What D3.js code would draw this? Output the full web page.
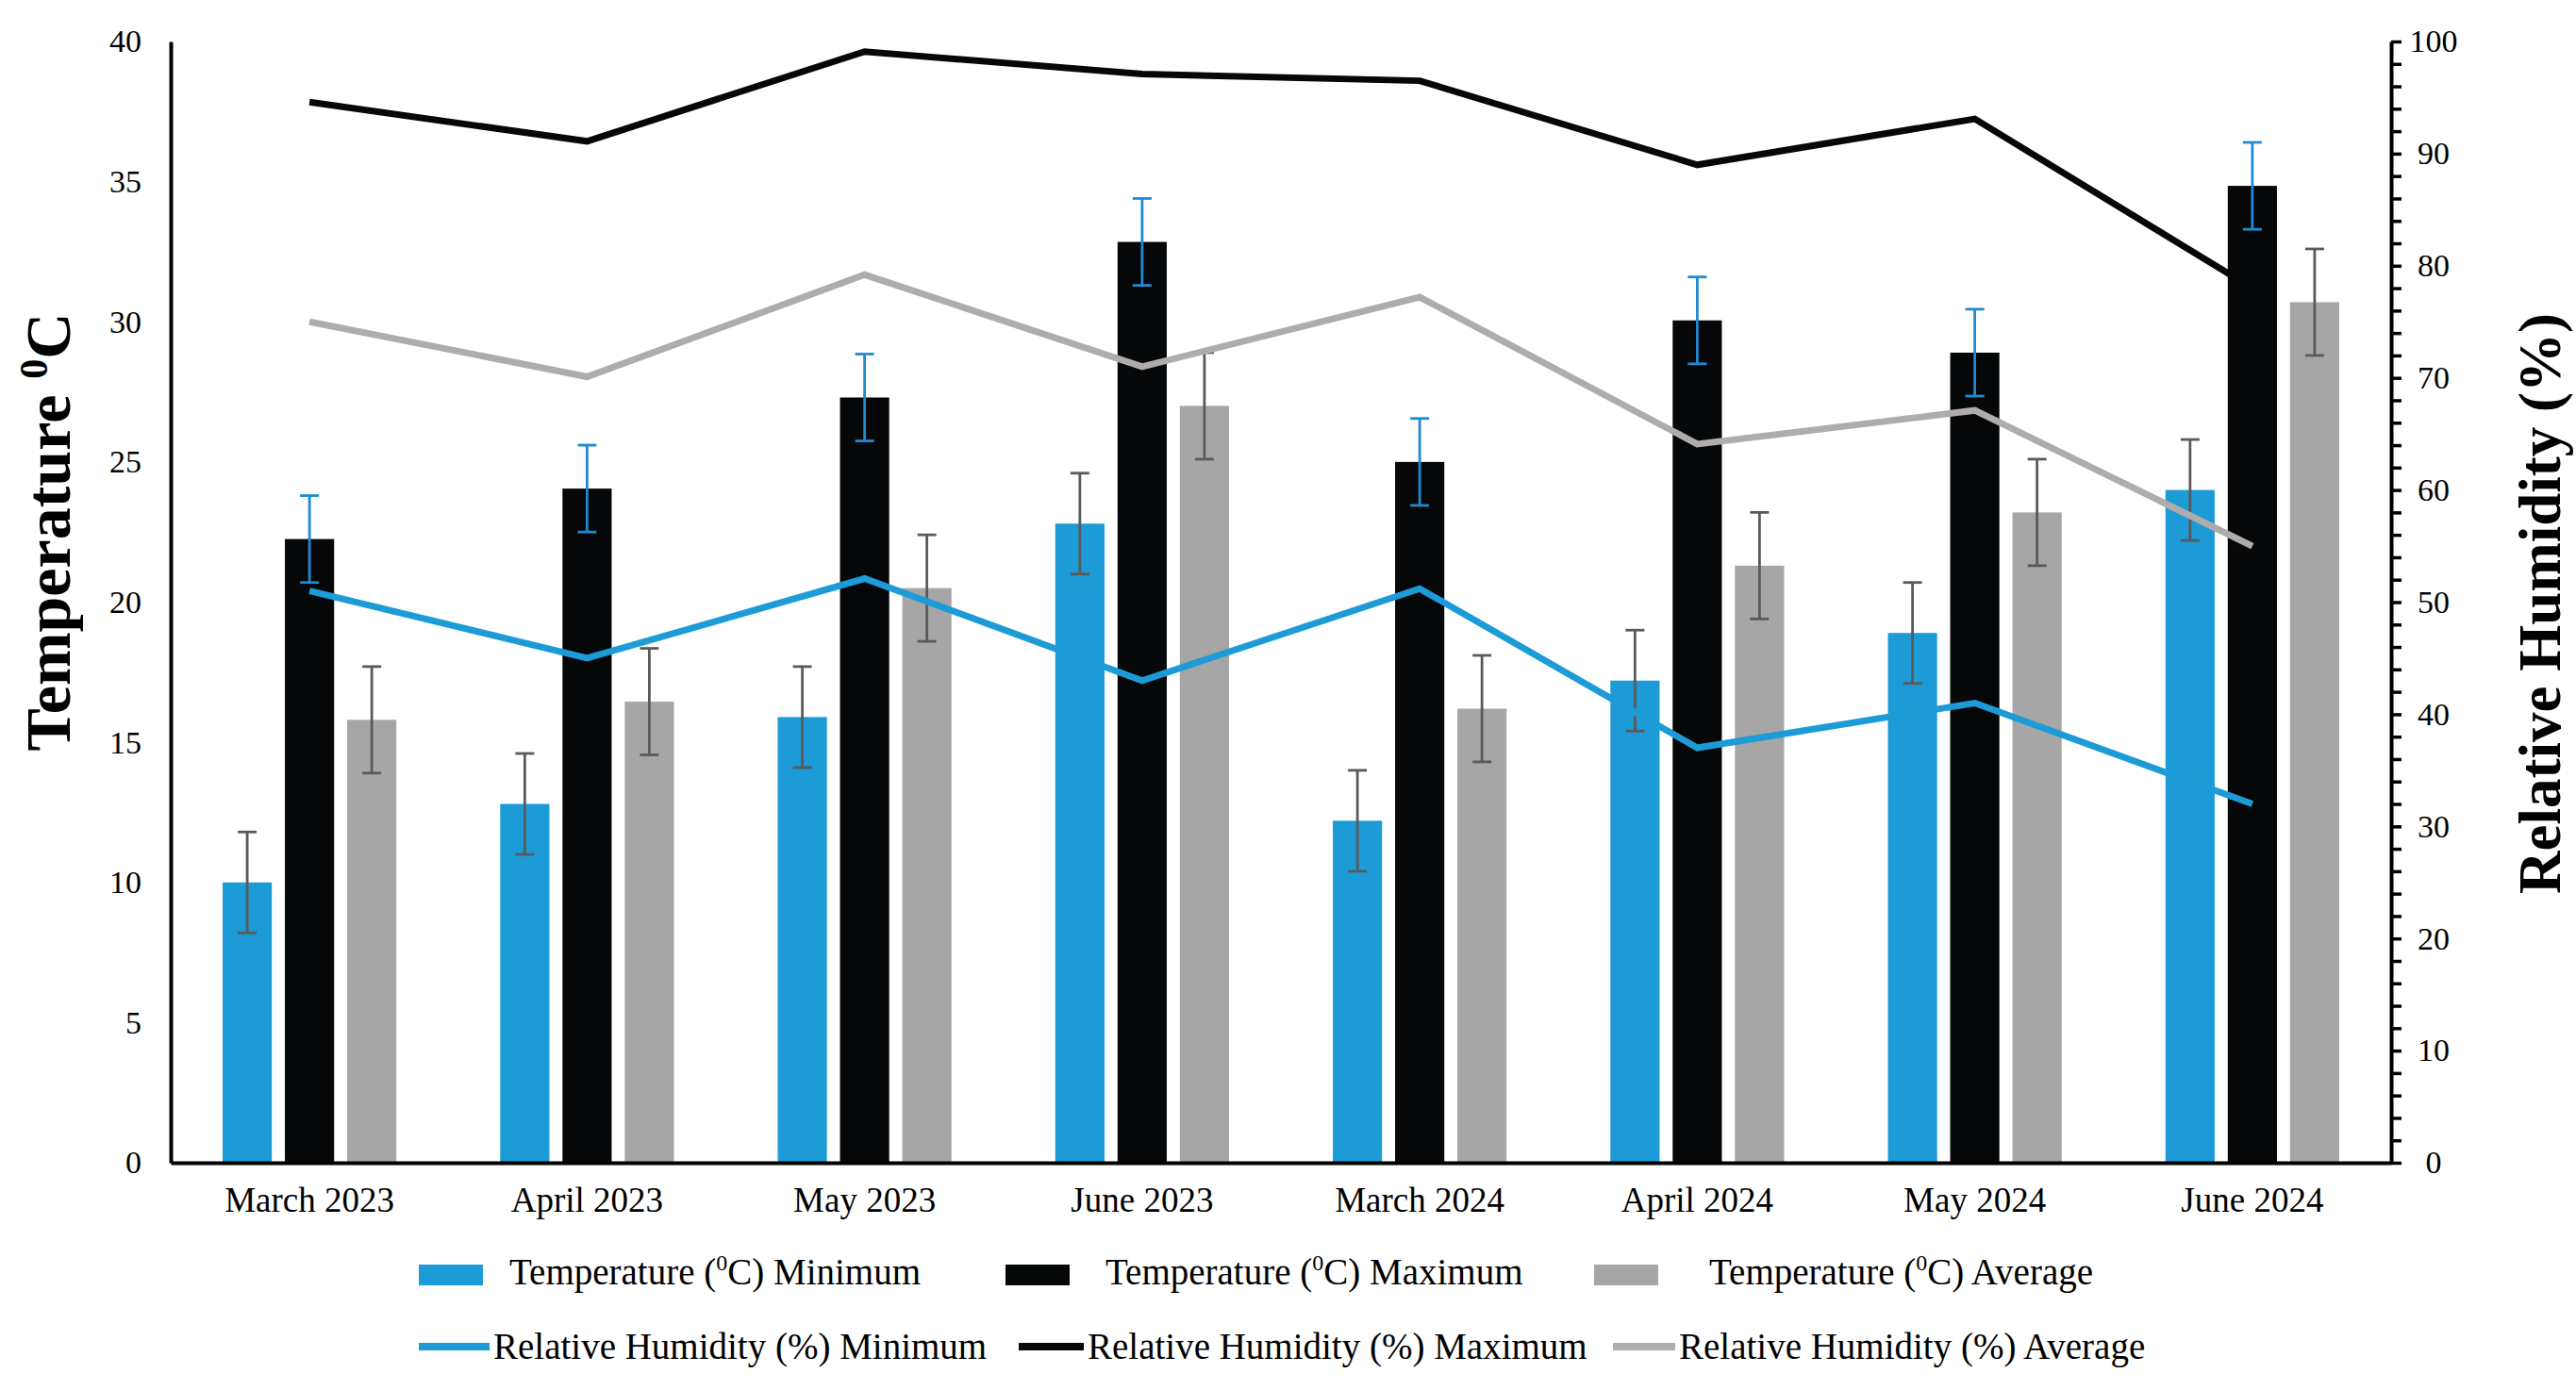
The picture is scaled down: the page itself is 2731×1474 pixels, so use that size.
<!DOCTYPE html>
<html>
<head>
<meta charset="utf-8">
<script src="https://cdnjs.cloudflare.com/ajax/libs/d3/7.8.5/d3.min.js"></script>
<style>
  body { margin: 0; background: #fff; }
  text { font-family: "Liberation Serif", "Times New Roman", serif; fill: #000; }
</style>
</head>
<body>
<div id="chart"></div>
<script>
// categories and series
var months = ["March 2023", "April 2023", "May 2023", "June 2023", "March 2024", "April 2024", "May 2024", "June 2024"];

var tempMin = [10.0, 12.8, 15.9, 22.8, 12.2, 17.2, 18.9, 24.0];
var tempMinErr = [1.8, 1.8, 1.8, 1.8, 1.8, 1.8, 1.8, 1.8];
var tempMax = [22.25, 24.05, 27.3, 32.85, 25.0, 30.05, 28.9, 34.85];
var tempMaxErr = [1.55, 1.55, 1.55, 1.55, 1.55, 1.55, 1.55, 1.55];
var tempAvg = [15.8, 16.45, 20.5, 27.0, 16.2, 21.3, 23.2, 30.7];
var tempAvgErr = [1.9, 1.9, 1.9, 1.9, 1.9, 1.9, 1.9, 1.9];

var rhMin = [51.0, 45.0, 52.1, 43.0, 51.2, 37.0, 41.0, 32.0];
var rhMax = [94.6, 91.1, 99.1, 97.1, 96.5, 89.0, 93.1, 78.0];
var rhAvg = [75.0, 70.1, 79.2, 71.0, 77.2, 64.1, 67.1, 55.0];

var leftTicks = [0, 5, 10, 15, 20, 25, 30, 35, 40];
var rightTicks = d3.range(0, 101, 2);

var width = 2731, height = 1474;
var margin = {top: 44, right: 196, bottom: 241, left: 181};

var blue = "#1c9bd6", black = "#050708", grayBar = "#a6a6a6", grayLine = "#b0acac";
var errDark = "#5a5a5a", errBlue = "#1f8ad0";

var svg = d3.select("#chart").append("svg")
    .attr("width", width)
    .attr("height", height);

var x0 = d3.scaleBand()
    .domain(months)
    .range([margin.left, width - margin.right]);

var bw = x0.bandwidth();
var x1 = d3.scaleBand()
    .domain(["min", "max", "avg"])
    .range([-bw * 0.313, bw * 0.313])
    .paddingInner(0.21);

var yT = d3.scaleLinear().domain([0, 40]).range([height - margin.bottom, margin.top]);
var yH = d3.scaleLinear().domain([0, 100]).range([height - margin.bottom, margin.top]);

var barSeries = [
    {key: "min", values: tempMin, err: tempMinErr, fill: blue, errColor: errDark},
    {key: "max", values: tempMax, err: tempMaxErr, fill: black, errColor: errBlue},
    {key: "avg", values: tempAvg, err: tempAvgErr, fill: grayBar, errColor: errDark}
];

//Bars
barSeries.forEach(function (s) {
    var g = svg.append("g");
    g.selectAll("rect")
        .data(months)
        .enter().append("rect")
        .attr("x", function (m) { return x0(m) + bw / 2 + x1(s.key); })
        .attr("y", function (m, i) { return yT(s.values[i]); })
        .attr("width", x1.bandwidth())
        .attr("height", function (m, i) { return yT(0) - yT(s.values[i]); })
        .attr("fill", s.fill);
});

//Error bars
barSeries.forEach(function (s) {
    var g = svg.append("g")
        .attr("stroke", s.errColor)
        .attr("stroke-width", 2.8);
    months.forEach(function (m, i) {
        var cx = x0(m) + bw / 2 + x1(s.key) + x1.bandwidth() / 2;
        var lo = yT(s.values[i] - s.err[i]);
        var hi = yT(s.values[i] + s.err[i]);
        g.append("line").attr("x1", cx).attr("x2", cx).attr("y1", lo).attr("y2", hi);
        g.append("line").attr("x1", cx - 10).attr("x2", cx + 10).attr("y1", lo).attr("y2", lo);
        g.append("line").attr("x1", cx - 10).attr("x2", cx + 10).attr("y1", hi).attr("y2", hi);
    });
});

//Humidity lines
var line = d3.line()
    .x(function (d, i) { return x0(months[i]) + bw / 2; })
    .y(function (d) { return yH(d); });

[[rhMin, blue], [rhMax, black], [rhAvg, grayLine]].forEach(function (p) {
    svg.append("path")
        .datum(p[0])
        .attr("d", line)
        .attr("fill", "none")
        .attr("stroke", p[1])
        .attr("stroke-width", 7)
        .attr("stroke-linejoin", "miter");
});

//Axes
var axisLeft = svg.append("g")
    .attr("transform", "translate(" + margin.left + ",0)")
    .call(d3.axisLeft(yT).tickValues(leftTicks).tickSize(0).tickPadding(31));
axisLeft.select(".domain").attr("stroke", "#000").attr("stroke-width", 4);
axisLeft.selectAll("text").attr("font-size", "34px").attr("font-family", "Liberation Serif");

var axisRight = svg.append("g")
    .attr("transform", "translate(" + (width - margin.right) + ",0)")
    .call(d3.axisRight(yH).tickValues(rightTicks).tickSize(11).tickSizeOuter(0)
        .tickFormat(function (d) { return d % 10 === 0 ? d : ""; }));
axisRight.select(".domain").attr("stroke", "#000").attr("stroke-width", 4);
axisRight.selectAll("line").attr("stroke", "#000").attr("stroke-width", 3.5);
axisRight.selectAll("text")
    .attr("font-size", "34px")
    .attr("font-family", "Liberation Serif")
    .attr("text-anchor", "middle")
    .attr("x", 45);

var axisBottom = svg.append("g")
    .attr("transform", "translate(0," + yT(0) + ")")
    .call(d3.axisBottom(x0).tickSize(0).tickPadding(26).tickSizeOuter(0));
axisBottom.select(".domain").attr("stroke", "#000").attr("stroke-width", 4);
axisBottom.selectAll("text").attr("font-size", "37px").attr("font-family", "Liberation Serif");

//Axis titles
var tl = svg.append("text")
    .attr("transform", "translate(74," + 564 + ") rotate(-90)")
    .attr("text-anchor", "middle")
    .attr("font-size", "68px")
    .attr("font-weight", "bold");
tl.append("tspan").text("Temperature ");
tl.append("tspan").attr("font-size", "42px").attr("dy", "-24").text("0");
tl.append("tspan").attr("dy", "24").text("C");

svg.append("text")
    .attr("transform", "translate(2714," + 640 + ") rotate(-90)")
    .attr("text-anchor", "middle")
    .attr("font-size", "63px")
    .attr("font-weight", "bold")
    .text("Relative Humidity (%)");

//Legend
var legendBars = [
    {label: "Minimum", fill: blue, x: 444, tx: 540},
    {label: "Maximum", fill: black, x: 1066, tx: 1172},
    {label: "Average", fill: grayBar, x: 1690, tx: 1812}
];
legendBars.forEach(function (l) {
    svg.append("rect")
        .attr("x", l.x).attr("y", 1341)
        .attr("width", 68).attr("height", 22)
        .attr("fill", l.fill);
    var t = svg.append("text")
        .attr("x", l.tx).attr("y", 1362)
        .attr("font-size", "39px");
    t.append("tspan").text("Temperature (");
    t.append("tspan").attr("font-size", "24px").attr("dy", "-15").text("0");
    t.append("tspan").attr("dy", "15").text("C) " + l.label);
});

var legendLines = [
    {label: "Relative Humidity (%) Minimum", stroke: blue, x: 444, tx: 523},
    {label: "Relative Humidity (%) Maximum", stroke: black, x: 1080, tx: 1153},
    {label: "Relative Humidity (%) Average", stroke: grayLine, x: 1710, tx: 1780}
];
legendLines.forEach(function (l) {
    svg.append("line")
        .attr("x1", l.x).attr("x2", l.tx - 4)
        .attr("y1", 1428).attr("y2", 1428)
        .attr("stroke", l.stroke)
        .attr("stroke-width", 8);
    svg.append("text")
        .attr("x", l.tx).attr("y", 1441)
        .attr("font-size", "39px")
        .text(l.label);
});
</script>
</body>
</html>
